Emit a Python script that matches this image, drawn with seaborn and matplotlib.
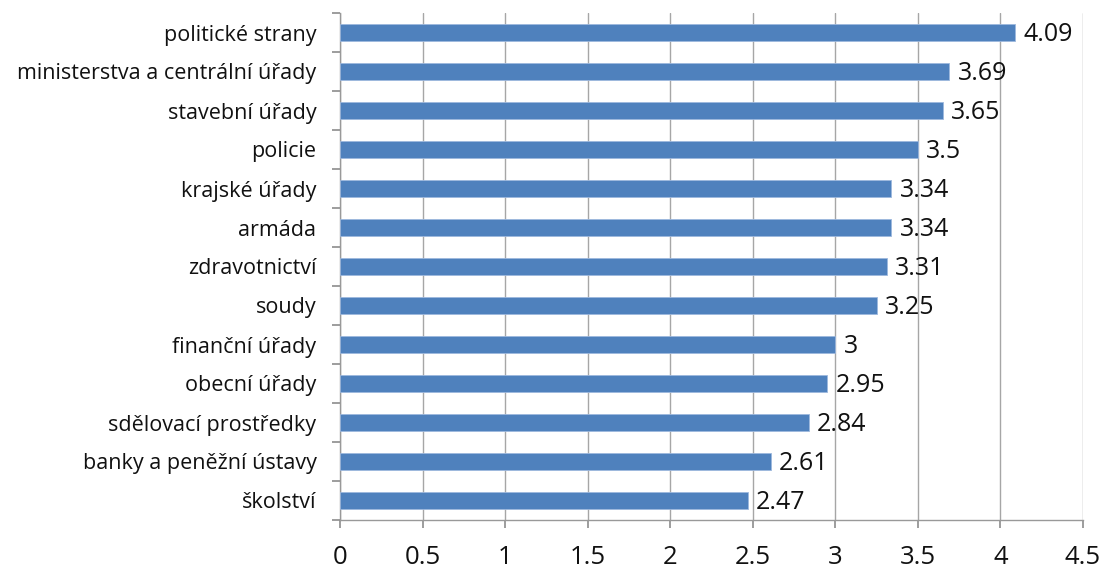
import matplotlib
matplotlib.use("Agg")
import matplotlib.pyplot as plt
from matplotlib.ticker import FixedLocator
import seaborn as sns
import pandas as pd
import numpy as np

categories = [
    "politické strany",
    "ministerstva a centrální úřady",
    "stavební úřady",
    "policie",
    "krajské úřady",
    "armáda",
    "zdravotnictví",
    "soudy",
    "finanční úřady",
    "obecní úřady",
    "sdělovací prostředky",
    "banky a peněžní ústavy",
    "školství",
]
values = [4.09, 3.69, 3.65, 3.5, 3.34, 3.34, 3.31, 3.25, 3.0, 2.95, 2.84, 2.61, 2.47]
value_labels = ["4.09", "3.69", "3.65", "3.5", "3.34", "3.34", "3.31", "3.25", "3", "2.95", "2.84", "2.61", "2.47"]
x_ticks = [0, 0.5, 1, 1.5, 2, 2.5, 3, 3.5, 4, 4.5]
x_tick_labels = ["0", "0.5", "1", "1.5", "2", "2.5", "3", "3.5", "4", "4.5"]

sns.set_style("white")
plt.rcParams["font.family"] = ["Open Sans", "DejaVu Sans"]

df = pd.DataFrame({"kategorie": categories, "hodnota": values})

fig = plt.figure(figsize=(11.02, 5.76), dpi=100)
ax = fig.add_axes([340 / 1102, 1 - 520 / 576, (1083 - 340) / 1102, (520 - 13) / 576])

sns.barplot(data=df, x="hodnota", y="kategorie", orient="h", color="#4f81bd",
            saturation=1, width=0.42, edgecolor="#9db8dd", linewidth=0.6, ax=ax, zorder=3)

for i, (v, lab) in enumerate(zip(values, value_labels)):
    ax.text(v + 0.05, i + 0.04, lab, va="center", ha="left", fontsize=18, color="#111111", zorder=4)

ax.set_xlim(0, 4.5)
ax.set_ylim(len(categories) - 0.5, -0.5)
ax.set_xticks(x_ticks)
ax.set_xticklabels(x_tick_labels, fontsize=18.5)
ax.set_yticks(range(len(categories)))
ax.set_yticklabels(categories, fontsize=15.5, color="#111111")
ax.yaxis.set_minor_locator(FixedLocator(np.arange(-0.5, len(categories), 1)))
ax.tick_params(axis="y", which="major", left=True, length=0, pad=17)
ax.tick_params(axis="y", which="minor", left=True, length=6, width=1.2, color="#8c8c8c", direction="out")
ax.tick_params(axis="x", which="major", bottom=True, length=6, width=1.2, color="#8c8c8c",
               direction="out", pad=12, labelcolor="#111111")
ax.set_xlabel("")
ax.set_ylabel("")

ax.grid(axis="x", color="#a6a6a6", linewidth=1, zorder=0)
ax.grid(axis="y", visible=False)
for side in ["top", "right"]:
    ax.spines[side].set_visible(False)
ax.spines["left"].set_color("#999999")
ax.spines["bottom"].set_color("#999999")
ax.spines["left"].set_linewidth(1)
ax.spines["bottom"].set_linewidth(1)

fig.savefig("out.png", dpi=100)
